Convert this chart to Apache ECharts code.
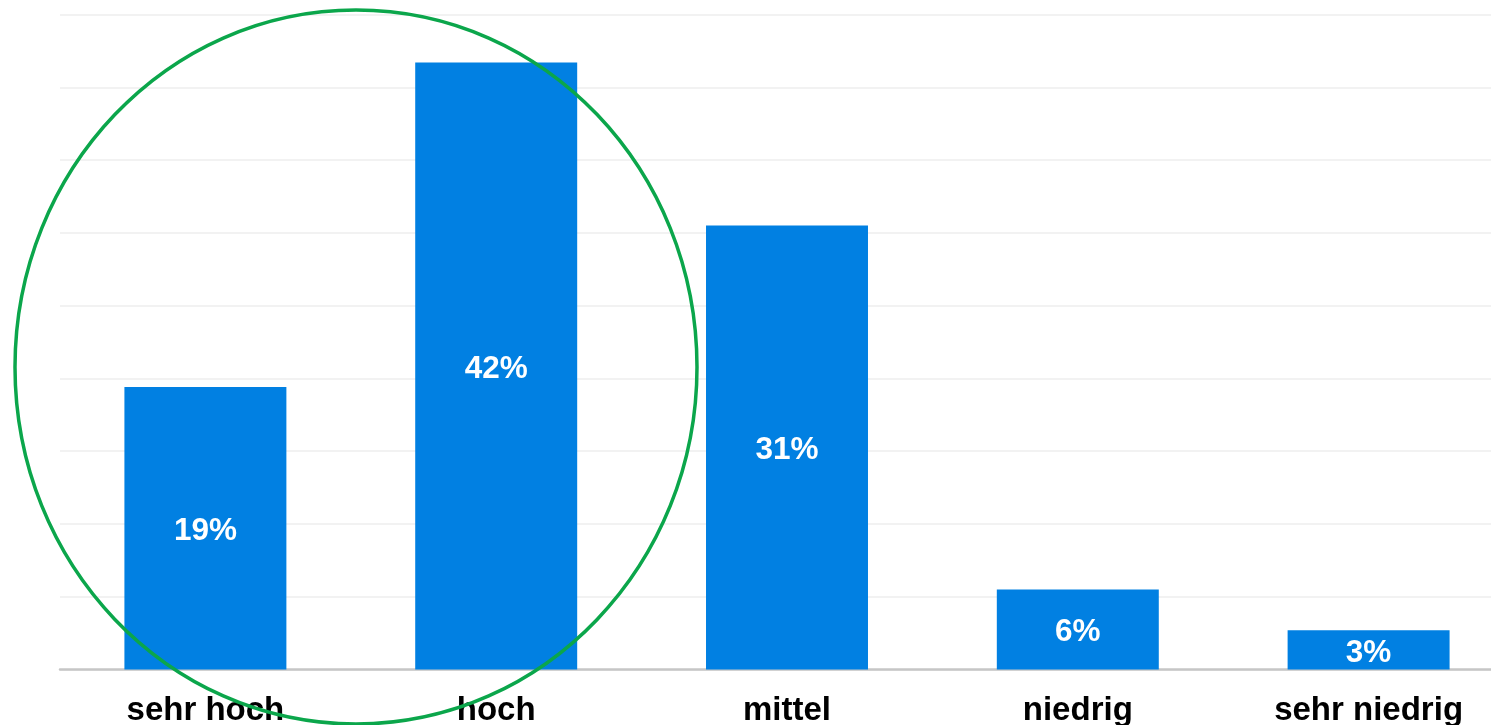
<!DOCTYPE html>
<html>
<head>
<meta charset="utf-8">
<script src="https://cdn.jsdelivr.net/npm/echarts@6/dist/echarts.min.js"></script>
<style>
html,body{margin:0;padding:0;background:#fff;}
#chart{width:1491px;height:725px;}
</style>
</head>
<body>
<div id="chart"></div>
<script>
const categories = ['sehr hoch', 'hoch', 'mittel', 'niedrig', 'sehr niedrig'];
const values = [19.4, 41.7, 30.5, 5.5, 2.7];
const valueLabels = ['19%', '42%', '31%', '6%', '3%'];

const chart = echarts.init(document.getElementById('chart'));
chart.setOption({
  animation: false,
  grid: { left: 60, right: -23, top: 14.5, bottom: 55.5, containLabel: false, outerBoundsMode: 'none' },
  xAxis: {
    type: 'category',
    data: categories,
    axisLine: { show: true, lineStyle: { color: '#c6c6c6', width: 2.5 } },
    axisTick: { show: false },
    axisLabel: {
      color: '#000', fontSize: 33, fontWeight: 'bold',
      fontFamily: 'Liberation Sans, Arial, sans-serif', margin: 25, interval: 0
    }
  },
  yAxis: {
    type: 'value', min: 0, max: 45, interval: 5,
    axisLabel: { show: false },
    axisLine: { show: false },
    axisTick: { show: false },
    splitLine: { lineStyle: { color: '#eeeeee', width: 1.5 } }
  },
  series: [{
    type: 'bar',
    data: values,
    barWidth: '55.7%',
    itemStyle: { color: '#0180E2' },
    label: {
      show: true, position: 'inside', offset: [0, 3],
      formatter: p => valueLabels[p.dataIndex],
      color: '#fff', fontSize: 31.5, fontWeight: 'bold',
      fontFamily: 'Liberation Sans, Arial, sans-serif'
    }
  }],
  graphic: [{
    type: 'ellipse',
    shape: { cx: 356, cy: 367, rx: 341, ry: 357 },
    style: { fill: null, stroke: '#0BA64B', lineWidth: 3.5 },
    z: 100
  }]
});
</script>
</body>
</html>
